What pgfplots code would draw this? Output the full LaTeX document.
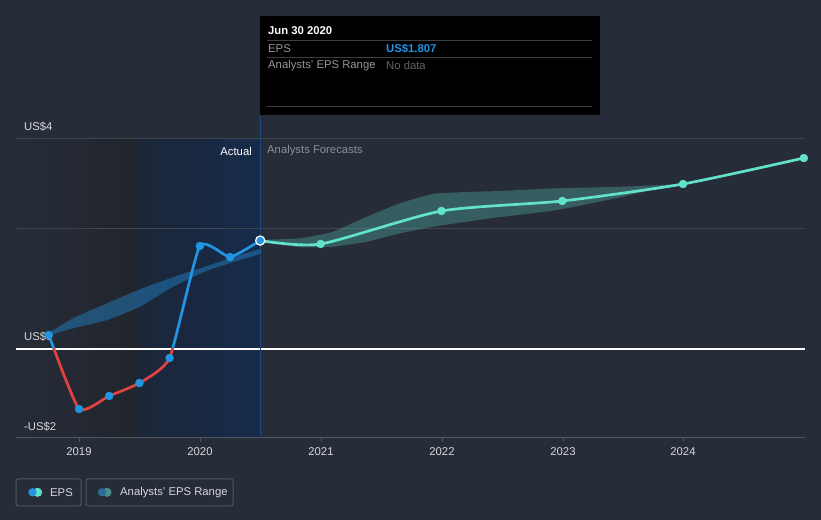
\documentclass[border=0pt]{standalone}
\usepackage{fontspec}
\setmainfont{Liberation Sans}
\usepackage{pgfplots}
\usepackage{pgfplotstable}
\pgfplotsset{compat=1.18}

\definecolor{bg}{RGB}{38,44,56}
\definecolor{darkreg}{RGB}{33,37,44}
\definecolor{blueregL}{RGB}{28,38,56}
\definecolor{blueregR}{RGB}{22,43,74}
\definecolor{gridc}{RGB}{62,68,80}
\definecolor{axisc}{RGB}{80,86,98}
\definecolor{vlinec}{RGB}{30,72,124}
\definecolor{labc}{RGB}{214,216,220}
\definecolor{greyc}{RGB}{140,145,153}
\definecolor{eblue}{RGB}{33,148,226}
\definecolor{ered}{RGB}{226,66,64}
\definecolor{teal}{RGB}{98,226,202}
\definecolor{legblue}{RGB}{45,106,154}
\definecolor{legteal}{RGB}{74,140,138}
\definecolor{tipline}{RGB}{62,62,62}
\definecolor{tipgrey}{RGB}{150,150,150}
\definecolor{tipdark}{RGB}{100,100,100}

\pgfplotstableread{
x y
2018.75 0.233
2019.0 -1.0
2019.25 -0.783
2019.5 -0.567
2019.75 -0.15
2020.0 1.717
2020.25 1.533
2020.5 1.807
}\actual

\pgfplotstableread{
x y
2020.5 1.807
2021.0 1.75
2022.0 2.30
2023.0 2.467
2024.0 2.75
2025.0 3.183
}\forecast

\pgfplotstableread{
x y
2021.0 1.75
2022.0 2.30
2023.0 2.467
2024.0 2.75
2025.0 3.183
}\forecastmarks

% forecast range: upper edge left to right, then lower edge right to left
\pgfplotstableread{
x y
2020.498 1.817
2020.829 1.845
2021.103 1.955
2021.384 2.205
2021.657 2.428
2021.930 2.583
2022.212 2.617
2022.485 2.633
2022.957 2.678
2023.503 2.705
2023.834 2.735
2024.0 2.75
2023.834 2.700
2023.503 2.538
2022.957 2.317
2022.402 2.178
2022.212 2.122
2021.930 2.038
2021.657 1.928
2021.384 1.788
2021.103 1.705
2020.829 1.695
2020.664 1.750
2020.498 1.812
}\frange

% actual-period range: upper edge left to right, then lower edge right to left
\pgfplotstableread{
x y
2018.735 0.250
2018.950 0.512
2019.232 0.762
2019.505 0.995
2019.778 1.195
2020.060 1.383
2020.333 1.567
2020.498 1.662
2020.498 1.583
2020.333 1.483
2020.060 1.305
2019.778 1.038
2019.505 0.705
2019.232 0.483
2018.950 0.345
2018.735 0.217
}\arange

\begin{document}
\begin{tikzpicture}[every node/.style={font=\fontsize{11.3bp}{13bp}\selectfont, inner sep=0pt}]
% ---------- background in pixel coordinates ----------
\begin{scope}[x=1bp,y=-1bp,yshift=520bp]
\fill[bg] (0,0) rectangle (821,520);
\shade[left color=bg, right color=darkreg] (16,139) rectangle (137,438);
\shade[left color=blueregL, right color=blueregR] (137,139) rectangle (260,438);
\draw[gridc, line width=1bp] (16,139) -- (805,139);
\draw[gridc, line width=1bp] (16,229) -- (805,229);
\draw[white, line width=1.3bp] (16,349) -- (805,349);
\draw[axisc, line width=1bp] (16,438) -- (805,438);
\foreach \t in {79,200,321,442,563,683} {\draw[axisc, line width=1bp] (\t,438) -- (\t,442);}
\draw[vlinec, line width=1bp] (260,115) -- (260,438);
\node[anchor=west, text=labc] at (24,127) {US\$4};
\node[anchor=west, text=labc] at (24,337) {US\$0};
\node[anchor=west, text=labc] at (24,427) {-US\$2};
\node[text=labc] at (79,452) {2019};
\node[text=labc] at (200,452) {2020};
\node[text=labc] at (321,452) {2021};
\node[text=labc] at (442,452) {2022};
\node[text=labc] at (563,452) {2023};
\node[text=labc] at (683,452) {2024};
\node[anchor=east, text=white] at (252,151) {Actual};
\node[anchor=west, text=greyc] at (267,151) {Analysts Forecasts};
\end{scope}

% ---------- data ----------
\begin{axis}[
  scale only axis, width=821bp, height=520bp,
  xmin=2018.346, xmax=2025.142,
  ymin=-2.85, ymax=5.8167,
  hide axis,
]
% analysts' EPS range bands
\addplot[fill=eblue, fill opacity=0.4, draw=none, smooth, tension=0.3, forget plot] table {\arange} -- cycle;
\addplot[fill=teal, fill opacity=0.27, draw=none, smooth, tension=0.3, forget plot] table {\frange} -- cycle;
% actual EPS line, blue above zero, red below
\begin{scope}
\clip (axis cs:2018.3,0) rectangle (axis cs:2025.2,5.8);
\addplot[eblue, line width=2.7bp, smooth, tension=0.3, forget plot] table {\actual};
\end{scope}
\begin{scope}
\clip (axis cs:2018.3,-2.85) rectangle (axis cs:2025.2,0);
\addplot[ered, line width=2.7bp, smooth, tension=0.3, forget plot] table {\actual};
\end{scope}
% forecast line
\addplot[teal, line width=2.7bp, smooth, tension=0.4, forget plot] table {\forecast};
% markers
\addplot[only marks, mark=*, mark size=4bp, eblue, forget plot] table {\actual};
\addplot[only marks, mark=*, mark size=4bp, teal, forget plot] table {\forecastmarks};
\addplot[only marks, mark=*, mark size=4.6bp, mark options={fill=eblue, draw=white, line width=1.2bp}, forget plot] coordinates {(2020.5,1.807)};
\end{axis}

% ---------- tooltip and legend ----------
\begin{scope}[x=1bp,y=-1bp,yshift=520bp]
\fill[black] (260,16) rectangle (600,115);
\draw[tipline, line width=1bp] (267,40.3) -- (592,40.3);
\draw[tipline, line width=1bp] (267,57.3) -- (592,57.3);
\draw[tipline, line width=1bp] (267,106.3) -- (592,106.3);
\node[anchor=west, text=white, font=\fontsize{11.3bp}{13bp}\selectfont\bfseries] at (268,31) {Jun 30 2020};
\node[anchor=west, text=tipgrey] at (268,48.5) {EPS};
\node[anchor=west, text=eblue, font=\fontsize{11.3bp}{13bp}\selectfont\bfseries] at (386,48.5) {US\$1.807};
\node[anchor=west, text=tipgrey] at (268,65.5) {Analysts' EPS Range};
\node[anchor=west, text=tipdark] at (386,65.5) {No data};
% legend
\draw[axisc, rounded corners=2bp, line width=1bp] (16,479) rectangle (81,506);
\fill[teal] (37.5,492.3) circle (4.6);
\fill[eblue] (32.5,492.3) circle (4.2);
\node[anchor=west, text=labc] at (50,492.5) {EPS};
\draw[axisc, rounded corners=2bp, line width=1bp] (86,479) rectangle (233,506);
\fill[legteal] (107,492.3) circle (4.6);
\fill[legblue] (102,492.3) circle (4.2);
\node[anchor=west, text=labc] at (120,492.5) {Analysts' EPS Range};
\end{scope}
\end{tikzpicture}
\end{document}
